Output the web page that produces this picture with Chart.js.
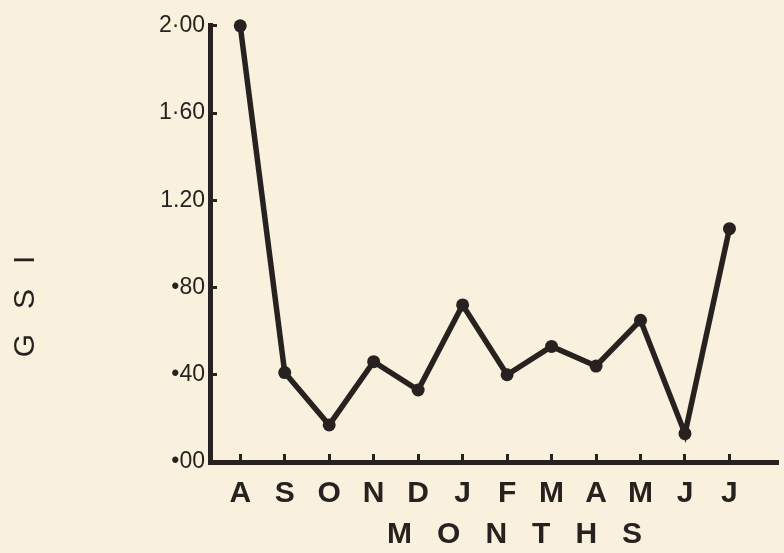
<!DOCTYPE html>
<html>
<head>
<meta charset="utf-8">
<script src="https://cdn.jsdelivr.net/npm/chart.js@4/dist/chart.umd.min.js"></script>
<style>
  body { margin: 0; background: #f9f0de; }
  #wrap { width: 784px; height: 553px; position: relative; }
</style>
</head>
<body>
<div id="wrap"><canvas id="gsiChart"></canvas></div>
<script>
// GSI by month, August to July
var months = ["A", "S", "O", "N", "D", "J", "F", "M", "A", "M", "J", "J"];
var gsi = [2.00, 0.41, 0.17, 0.46, 0.33, 0.72, 0.40, 0.53, 0.44, 0.65, 0.13, 1.07];
var yTickLabels = ["•00", "•40", "•80", "1.20", "1·60", "2·00"];

var ink = "#27221f";

var points = [];
for (var i = 0; i < gsi.length; i++) {
    points.push({ x: i, y: gsi[i] });
}

var ctx = document.getElementById("gsiChart").getContext("2d");
var gsiChart = new Chart(ctx, {
    type: "line",
    data: {
        datasets: [{
            data: points,
            borderColor: ink,
            backgroundColor: ink,
            borderWidth: 5.5,
            pointRadius: 6.5,
            pointBackgroundColor: ink,
            pointBorderWidth: 0,
            tension: 0,
            clip: false
        }]
    },
    options: {
        responsive: true,
        maintainAspectRatio: false,
        animation: false,
        layout: { padding: { top: 24, right: 0, left: 8, bottom: 0 } },
        plugins: {
            legend: { display: false },
            tooltip: { enabled: false }
        },
        scales: {
            x: {
                type: "linear",
                min: -0.68,
                max: 12.08,
                afterBuildTicks: function (axis) {
                    axis.ticks = months.map(function (m, i) { return { value: i }; });
                },
                afterFit: function (axis) { axis.height = 91; },
                ticks: {
                    color: ink,
                    padding: 22,
                    autoSkip: false,
                    maxRotation: 0,
                    font: { family: "Liberation Sans", size: 30, weight: "bold" },
                    callback: function (value) { return months[value]; }
                },
                grid: { display: true, drawOnChartArea: false, drawTicks: true, tickLength: -8, color: ink, lineWidth: 3 },
                border: { display: true, color: ink, width: 5 },
                title: {
                    display: true,
                    text: "     M   O   N   T   H   S",
                    color: ink,
                    padding: { top: 0, bottom: 0 },
                    font: { family: "Liberation Sans", size: 30, weight: "bold" }
                }
            },
            y: {
                min: 0,
                max: 2.0,
                afterFit: function (axis) { axis.width = 202; },
                ticks: {
                    stepSize: 0.4,
                    color: ink,
                    padding: 12,
                    font: { family: "Liberation Sans", size: 23 },
                    callback: function (value, index) { return yTickLabels[index]; }
                },
                grid: { display: true, drawOnChartArea: false, drawTicks: true, tickLength: -7, color: ink, lineWidth: 3 },
                border: { display: true, color: ink, width: 5 },
                title: {
                    display: true,
                    text: "G   S   I               ",
                    color: ink,
                    padding: 0,
                    font: { family: "Liberation Sans", size: 30 }
                }
            }
        }
    }
});
</script>
</body>
</html>
